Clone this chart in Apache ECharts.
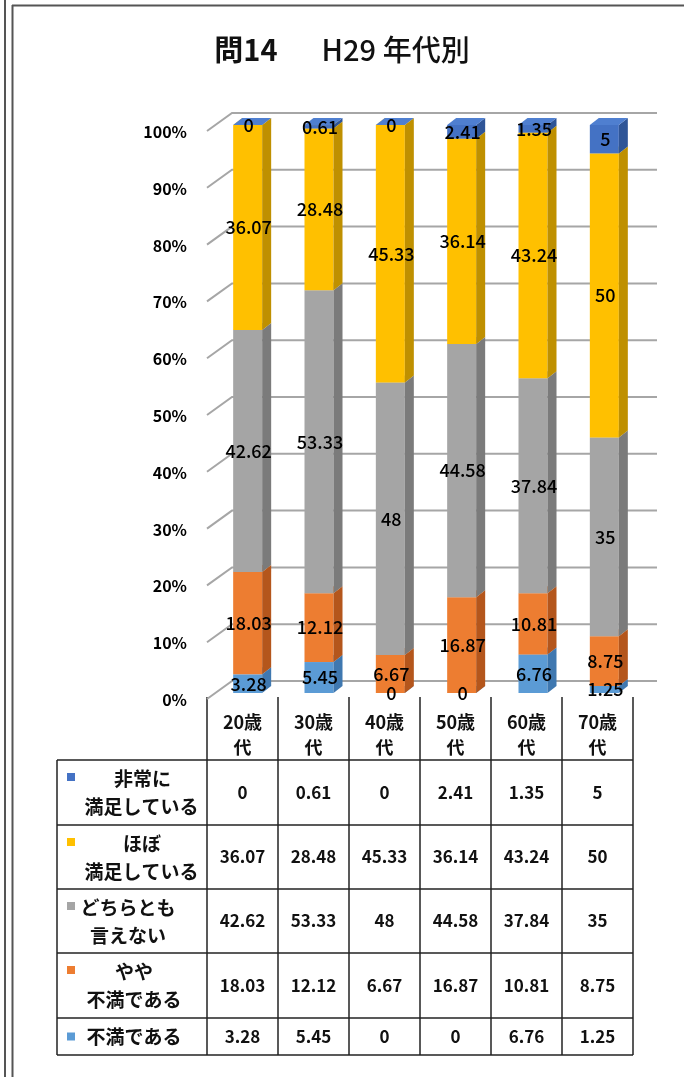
<!DOCTYPE html>
<html><head><meta charset="utf-8">
<script src="https://cdn.jsdelivr.net/npm/echarts@6/dist/echarts.min.js"></script>
<style>html,body{margin:0;padding:0;background:#fff}#c{width:684px;height:1077px}</style>
</head><body><div id="c"></div>
<script>
// ---- data ----
const categories = ['20歳代', '30歳代', '40歳代', '50歳代', '60歳代', '70歳代'];
const categoryLines = [['20歳', '代'], ['30歳', '代'], ['40歳', '代'], ['50歳', '代'], ['60歳', '代'], ['70歳', '代']];
const seriesNames = ['不満である', 'やや不満である', 'どちらとも言えない', 'ほぼ満足している', '非常に満足している'];
const seriesLabelLines = [['不満である'], ['やや', '不満である'], ['どちらとも', '言えない'], ['ほぼ', '満足している'], ['非常に', '満足している']];
const fuman      = [3.28, 5.45, 0, 0, 6.76, 1.25];
const yayaFuman  = [18.03, 12.12, 6.67, 16.87, 10.81, 8.75];
const dochira    = [42.62, 53.33, 48, 44.58, 37.84, 35];
const hobo       = [36.07, 28.48, 45.33, 36.14, 43.24, 50];
const hijou      = [0, 0.61, 0, 2.41, 1.35, 5];
const yTicks = [0, 10, 20, 30, 40, 50, 60, 70, 80, 90, 100];
const titleMain = '問14';
const titleSub = 'H29 年代別';

// ---- styling ----
const seriesValues = [fuman, yayaFuman, dochira, hobo, hijou];
const frontColors = ['#5B9BD5', '#ED7D31', '#A5A5A5', '#FFC000', '#4472C4'];
const sideColors  = ['#3F78B0', '#B4561C', '#7B7B7B', '#BF9000', '#2F5597'];
const topColors   = ['#6FA8DC', '#F08A44', '#B3B3B3', '#FFC933', '#4F7FD0'];
const FONT = '"Noto Sans CJK JP", "Noto Sans", sans-serif';
const BW = 29, DX = 9, DY = -7;

// stacked bases
const bases = [];
let acc = categories.map(() => 0);
seriesValues.forEach(vals => {
  bases.push(acc.slice());
  acc = acc.map((a, i) => a + vals[i]);
});

const series = [];
// back wall gridlines + depth diagonals
series.push({
  type: 'custom', name: 'walls', xAxisIndex: 0, yAxisIndex: 0, z: 1, silent: true,
  data: yTicks.map(t => [0, t]), encode: { x: 0, y: 1 },
  renderItem(params, api) {
    const y = api.coord([0, api.value(1)])[1];
    return {
      type: 'polyline',
      shape: { points: [[207, y + 6], [232, y - 12], [657, y - 12]] },
      style: { stroke: '#A6A6A6', lineWidth: 2, fill: 'none' }
    };
  }
});
seriesValues.forEach((vals, s) => {
  series.push({
    type: 'custom', name: seriesNames[s], xAxisIndex: 0, yAxisIndex: 0, z: 2, silent: true,
    data: vals.map((v, i) => [i, bases[s][i], v]), encode: { x: 0, y: 1 },
    renderItem(params, api) {
      const i = api.value(0), b = api.value(1), v = api.value(2);
      const p0 = api.coord([i, b]), p1 = api.coord([i, b + v]);
      const xl = p0[0] - BW / 2, xr = xl + BW, yb = p0[1], yt = p1[1];
      return {
        type: 'group', children: [
          { type: 'rect', shape: { x: xl, y: yt, width: BW, height: yb - yt }, style: { fill: frontColors[s] } },
          { type: 'polygon', shape: { points: [[xr, yb], [xr + DX, yb + DY], [xr + DX, yt + DY], [xr, yt]] }, style: { fill: sideColors[s] } },
          { type: 'polygon', shape: { points: [[xl, yt], [xl + DX, yt + DY], [xr + DX, yt + DY], [xr, yt]] }, style: { fill: topColors[s] } }
        ]
      };
    }
  });
});
// data labels
const labelData = [];
seriesValues.forEach((vals, s) => vals.forEach((v, i) => labelData.push([i, bases[s][i], v])));
series.push({
  type: 'custom', name: 'labels', xAxisIndex: 0, yAxisIndex: 0, z: 10, silent: true,
  data: labelData, encode: { x: 0, y: 1 },
  renderItem(params, api) {
    const i = api.value(0), b = api.value(1), v = api.value(2);
    const p = api.coord([i, b + v / 2]);
    return {
      type: 'text', x: p[0] + 1, y: p[1],
      style: { text: String(v), align: 'center', verticalAlign: 'middle', fill: '#000', fontSize: 18, fontWeight: 500, fontFamily: FONT }
    };
  }
});

// ---- table graphics ----
const g = [];
const line = (x1, y1, x2, y2, w, c) => g.push({ type: 'line', shape: { x1, y1, x2, y2 }, style: { stroke: c || '#222', lineWidth: w || 1.5 }, silent: true });
const text = (t, x, y, opts) => g.push(Object.assign({ type: 'text', x, y, silent: true,
  style: Object.assign({ text: t, align: 'center', verticalAlign: 'middle', fill: '#111', fontSize: 18, fontWeight: 'bold', fontFamily: FONT }, opts || {}) }));

// outer frame
line(5, 0, 5, 1077, 2, '#555');
line(12.5, 5, 12.5, 1077, 2, '#555');
line(12, 5.5, 684, 5.5, 2, '#555');

const tLeft = 57, colL = 207, colW = 71, hdrTop = 697;
const rowTops = [760, 825, 889, 953, 1018, 1055];
for (let k = 0; k <= categories.length; k++) line(colL + colW * k, hdrTop, colL + colW * k, rowTops[rowTops.length - 1]);
line(tLeft, rowTops[0], tLeft, rowTops[rowTops.length - 1]);
rowTops.forEach(y => line(tLeft, y, colL + colW * categories.length, y));
categoryLines.forEach((ls, i) => {
  const cx = colL + colW * (i + 0.5);
  text(ls[0], cx, 722);
  text(ls[1], cx, 747);
});
// rows: top to bottom = reverse of stacking
const lineX = [[134], [134, 134], [128, 128], [142, 141.5], [142.5, 141.5]];
for (let r = 0; r < 5; r++) {
  const s = 4 - r;
  const y0 = rowTops[r], y1 = rowTops[r + 1];
  const cy = (y0 + y1) / 2;
  const ls = seriesLabelLines[s];
  const markerY = ls.length === 1 ? cy : y0 + 17;
  g.push({ type: 'rect', shape: { x: 67, y: markerY - 4, width: 8, height: 8 }, style: { fill: frontColors[s] }, silent: true });
  if (ls.length === 1) {
    text(ls[0], lineX[s][0], cy, { fontSize: 19 });
  } else {
    text(ls[0], lineX[s][0], y0 + 19, { fontSize: 19 });
    text(ls[1], lineX[s][1], y0 + 47, { fontSize: 19 });
  }
  seriesValues[s].forEach((v, i) => text(String(v), colL + colW * (i + 0.5), cy, { fontSize: 17 }));
}

const chart = echarts.init(document.getElementById('c'));
chart.setOption({
  animation: false,
  backgroundColor: '#fff',
  title: {
    text: '{a|' + titleMain + '}{s|}{b|' + titleSub + '}',
    left: 'center', top: 30,
    textStyle: { rich: {
      a: { fontSize: 29, fontWeight: 'bold', fontFamily: FONT, color: '#111' },
      s: { width: 44 },
      b: { fontSize: 29, fontWeight: 500, fontFamily: FONT, color: '#111' }
    } }
  },
  grid: [
    { left: 212, width: 428, top: 125, height: 568 },
    { left: 190, width: 1, top: 132, height: 568 }
  ],
  xAxis: [
    { type: 'category', data: categories, gridIndex: 0, show: false },
    { type: 'value', gridIndex: 1, show: false }
  ],
  yAxis: [
    { type: 'value', gridIndex: 0, min: 0, max: 100, interval: 10, show: false },
    { type: 'value', gridIndex: 1, min: 0, max: 100, interval: 10,
      axisLine: { show: false }, axisTick: { show: false }, splitLine: { show: false },
      axisLabel: { formatter: '{value}%', margin: 3, color: '#000', fontSize: 16, fontWeight: 'bold', fontFamily: FONT } }
  ],
  series,
  graphic: g
});
</script>
</body></html>
